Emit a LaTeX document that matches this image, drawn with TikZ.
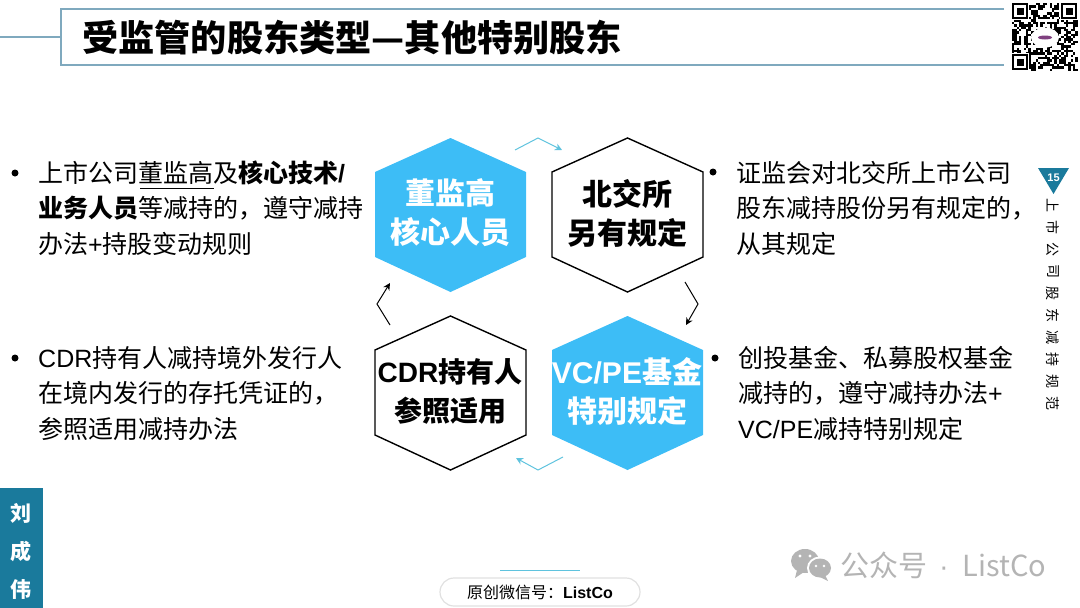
\documentclass[tikz,border=0pt]{standalone}
\usepackage{fontspec}
\setmainfont{Noto Sans CJK SC}
\newfontfamily\latinfont{Liberation Sans}
\newfontfamily\latinbold{Liberation Sans Bold}
\newcommand{\lat}[1]{{\latinfont #1}}
\newcommand{\latb}[1]{{\latinbold #1}}
\usetikzlibrary{arrows.meta}
\definecolor{hexblue}{HTML}{3DBDF6}
\definecolor{barteal}{HTML}{1A7A9C}
\definecolor{framegray}{HTML}{7FA9BE}
\definecolor{arrowblue}{HTML}{5FC3DE}
\definecolor{markgray}{HTML}{B4B4B4}
\tikzset{
    bodytext/.style={anchor=west,align=left,inner sep=0pt,font=\fontsize{25}{35.5}\selectfont},
    hextext/.style={align=center,inner sep=0pt,font=\fontsize{30}{39}\selectfont\bfseries},
    bulletdot/.style={circle,fill=black,inner sep=0pt,minimum size=7pt},
    sidechar/.style={inner sep=0pt,rotate=-90,font=\fontsize{14}{14}\selectfont},
    barchar/.style={inner sep=0pt,text=white,font=\fontsize{21}{21}\selectfont\bfseries},
    hexblack/.style={draw=black,line width=1.4pt,fill=white,line join=miter},
    hexfill/.style={fill=hexblue},
    turnblue/.style={draw=arrowblue,line width=1pt,-{Stealth[length=7pt,width=7pt]}},
    turnblack/.style={draw=black,line width=1pt,-{Stealth[length=7pt,width=7pt]}}
}
\newcommand{\hexshape}[3]{\path[#1,shift={(#2,#3)}] (0,-77)--(75.5,-43)--(75.5,42)--(0,77)--(-75.5,42)--(-75.5,-43)--cycle;}
\begin{document}
\begin{tikzpicture}[x=1pt,y=-1pt]
    \useasboundingbox (0,0) rectangle (1080,608);
    % title frame
    \draw[framegray,line width=1.2pt] (1004,9)--(61,9)--(61,65)--(1004,65);
    \draw[framegray,line width=1.2pt] (0,37)--(61,37);
    \node[anchor=west,inner sep=0pt,font=\fontsize{36.2}{36.2}\selectfont\bfseries] (title) at (82,38) {受监管的股东类型—其他特别股东};
    % code block
    \begin{scope}[shift={(1012,3)}]
        \pgfmathsetseed{15}
        \foreach \i in {0,...,27}
            \foreach \j in {0,...,28}{
                \pgfmathparse{random(0,1)}
                \ifnum\pgfmathresult=1
                    \fill[black] (\i*2.35,\j*2.35) rectangle +(2.35,2.35);
                \fi
            }
        \foreach \px/\py in {0/0,49/0,0/51}{
            \fill[white] (\px-1,\py-1) rectangle +(18,18);
            \draw[black,line width=2.2pt] (\px+1,\py+1) rectangle +(14,14);
            \fill[black] (\px+4.5,\py+4.5) rectangle +(7,7);
        }
        \fill[white] (33,34.5) ellipse (14 and 10);
        \fill[violet!50!gray] (33,34.5) ellipse (7 and 2);
    \end{scope}
    % hexagons
    \hexshape{hexfill}{450.5}{215}
    \hexshape{hexblack}{627.5}{215}
    \hexshape{hexblack}{450.5}{393}
    \hexshape{hexfill}{627.5}{393}
    \node[hextext,text=white] (dongjiangao) at (450,213) {董监高\\核心人员};
    \node[hextext] (beijiaosuo) at (627,213) {北交所\\另有规定};
    \node[hextext] (cdrholder) at (450,391) {{\fontsize{28}{39}\selectfont\latb{CDR}持有人}\\{\fontsize{28}{39}\selectfont 参照适用}};
    \node[hextext,text=white] (vcpe) at (627,391) {\latb{VC/PE}基金\\特别规定};
    % turn arrows
    \draw[turnblue] ([shift={(65,-63)}]dongjiangao.center)--([shift={(88,-75)}]dongjiangao.center)--([shift={(112,-63)}]dongjiangao.center);
    \draw[turnblack] ([shift={(58,69)}]beijiaosuo.center)--([shift={(71,91)}]beijiaosuo.center)--([shift={(59,112)}]beijiaosuo.center);
    \draw[turnblue] ([shift={(-64,66)}]vcpe.center)--([shift={(-89,79)}]vcpe.center)--([shift={(-111,67)}]vcpe.center);
    \draw[turnblack] ([shift={(-60,-66)}]cdrholder.center)--([shift={(-73,-87)}]cdrholder.center)--([shift={(-60,-108)}]cdrholder.center);
    % bullet texts
    \node[bulletdot] (dota) at (15,173) {};
    \node[bodytext] (texta) at (38,208) {上市公司董监高及\textbf{核心技术\latb{/}}\\\textbf{业务人员}等减持的，遵守减持\\办法\lat{+}持股变动规则};
    \draw[black,line width=1pt] (140,188)--(214,188);
    \node[bulletdot] (dotb) at (713,172) {};
    \node[bodytext] (textb) at (736,208) {证监会对北交所上市公司\\股东减持股份另有规定的，\\从其规定};
    \node[bulletdot] (dotc) at (15,358) {};
    \node[bodytext] (textc) at (38,393) {\lat{CDR}持有人减持境外发行人\\在境内发行的存托凭证的，\\参照适用减持办法};
    \node[bulletdot] (dotd) at (715,358) {};
    \node[bodytext] (textd) at (738,393) {创投基金、私募股权基金\\减持的，遵守减持办法\lat{+}\\\lat{VC/PE}减持特别规定};
    % side tab
    \fill[barteal] (1038,168)--(1069,168)--(1053.5,194)--cycle;
    \node[inner sep=0pt,text=white,font=\fontsize{11}{11}\selectfont] (tabnum) at (1053.5,178) {\latb{15}};
    \foreach \c [count=\n from 0] in {上,市,公,司,股,东,减,持,规,范}
        \node[sidechar] (side\n) at (1053,205+\n*22) {\c};
    % name bar
    \fill[barteal] (0,488) rectangle (43,608);
    \node[barchar] (namea) at (21,513) {刘};
    \node[barchar] (nameb) at (21,551) {成};
    \node[barchar] (namec) at (21,589) {伟};
    % footer
    \draw[arrowblue,line width=1pt] (500,570)--(580,570);
    \node[draw=black!12,line width=1.2pt,rounded corners=14pt,minimum width=200pt,minimum height=28pt,inner sep=0pt,font=\fontsize{16}{16}\selectfont] (tagline) at (540,592) {原创微信号：\latb{ListCo}};
    % watermark
    \fill[markgray] (805,561) ellipse (14 and 12);
    \fill[markgray] (797,570)--(795,578)--(804,572)--cycle;
    \fill[white] (820,568) ellipse (13 and 11.5);
    \fill[markgray] (820,568) ellipse (11 and 9.5);
    \fill[markgray] (825,575)--(828,581)--(818,576)--cycle;
    \fill[white] (800,556) circle (1.7) (810,556) circle (1.7) (816,566) circle (1.3) (824,566) circle (1.3);
    \node[anchor=west,inner sep=0pt,text=markgray,font=\fontsize{29}{29}\selectfont] (watermark) at (840,565) {公众号\hspace{12pt}\lat{·}\hspace{14pt}ListCo};
\end{tikzpicture}
\end{document}
